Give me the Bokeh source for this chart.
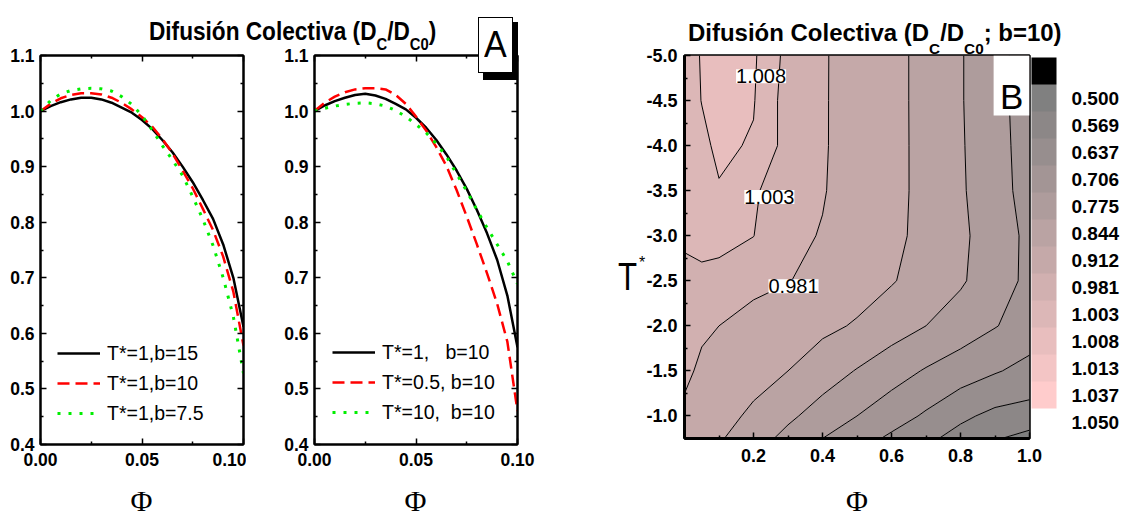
import numpy as np
from bokeh.plotting import figure
from bokeh.layouts import row, column
from bokeh.models import (Range1d, LinearAxis, FixedTicker, NumeralTickFormatter, Legend,
                          LegendItem, Label, BoxAnnotation, ColorBar, LinearColorMapper,
                          CustomJSTickFormatter, AllLabels, Div)
from bokeh.embed import file_html
from bokeh.resources import INLINE

# ---------------- data ----------------
phi_a = [0.000, 0.005, 0.010, 0.015, 0.020, 0.025, 0.030, 0.035, 0.040, 0.045, 0.050,
         0.055, 0.060, 0.065, 0.070, 0.075, 0.080, 0.085, 0.090, 0.095, 0.100]

# Panel A-left : T*=1, b = 15 / 10 / 7.5
dc_t1_b15 = [1.000, 1.009, 1.016, 1.021, 1.024, 1.024, 1.021, 1.015, 1.006, 0.997, 0.984,
             0.968, 0.948, 0.926, 0.900, 0.872, 0.840, 0.806, 0.760, 0.700, 0.612]
dc_t1_b10 = [1.000, 1.013, 1.023, 1.029, 1.032, 1.032, 1.030, 1.024, 1.015, 1.003, 0.989,
             0.972, 0.950, 0.924, 0.893, 0.861, 0.824, 0.786, 0.738, 0.675, 0.578]
dc_t1_b75 = [1.000, 1.019, 1.031, 1.037, 1.040, 1.041, 1.040, 1.036, 1.026, 1.012, 0.992,
             0.966, 0.938, 0.912, 0.884, 0.846, 0.805, 0.758, 0.700, 0.630, 0.528]
legend_left = ["T*=1,b=15", "T*=1,b=10", "T*=1,b=7.5"]

# Panel A-right : b=10, T* = 1 / 0.5 / 10
dc_b10_t1 = [1.000, 1.010, 1.018, 1.024, 1.029, 1.031, 1.028, 1.022, 1.013, 1.003, 0.988,
             0.970, 0.948, 0.922, 0.893, 0.860, 0.822, 0.780, 0.732, 0.668, 0.575]
dc_b10_t05 = [1.000, 1.015, 1.026, 1.034, 1.039, 1.041, 1.041, 1.039, 1.029, 1.013, 0.990,
              0.965, 0.935, 0.901, 0.858, 0.810, 0.760, 0.708, 0.653, 0.585, 0.460]
dc_b10_t10 = [1.000, 1.005, 1.009, 1.012, 1.014, 1.015, 1.013, 1.009, 1.001, 0.990, 0.976,
              0.961, 0.941, 0.918, 0.887, 0.856, 0.822, 0.790, 0.760, 0.730, 0.689]
legend_right = ["T*=1,\u00a0\u00a0\u00a0b=10", "T*=0.5, b=10", "T*=10,\u00a0\u00a0b=10"]

# Panel B : D_C/D_C0 on (Phi, T*) grid, b=10
phi_grid = [0.0, 0.05, 0.1, 0.2, 0.3, 0.4, 0.5, 0.6, 0.7, 0.8, 0.9, 1.0]
t_grid = [-5.0, -4.5, -4.0, -3.5, -3.0, -2.5, -2.0, -1.5, -1.0, -0.75]
dc_grid = [
    [1.0060, 1.0083, 1.0100, 1.0087, 1.0014, 0.9857, 0.9600, 0.9300, 0.8940, 0.8490, 0.7960, 0.745],
    [1.0060, 1.0081, 1.0096, 1.0083, 1.0007, 0.9855, 0.9600, 0.9300, 0.8940, 0.8490, 0.7960, 0.745],
    [1.0050, 1.0071, 1.0088, 1.0076, 1.0010, 0.9854, 0.9600, 0.9300, 0.8945, 0.8506, 0.7990, 0.747],
    [1.0050, 1.0062, 1.0077, 1.0046, 0.9959, 0.9840, 0.9590, 0.9296, 0.8950, 0.8525, 0.8015, 0.750],
    [1.0045, 1.0051, 1.0051, 1.0032, 0.9920, 0.9784, 0.9524, 0.9263, 0.8950, 0.8572, 0.8095, 0.760],
    [1.0005, 1.0015, 1.0008, 0.9944, 0.9832, 0.9626, 0.9396, 0.9166, 0.8855, 0.8523, 0.8057, 0.760],
    [0.9900, 0.9855, 0.9810, 0.9628, 0.9447, 0.9265, 0.9058, 0.8749, 0.8440, 0.8111, 0.7783, 0.745],
    [0.9870, 0.9759, 0.9631, 0.9376, 0.9120, 0.8762, 0.8404, 0.8040, 0.7693, 0.7405, 0.7118, 0.685],
    [0.9750, 0.9529, 0.9359, 0.8993, 0.8568, 0.8156, 0.7750, 0.7367, 0.6968, 0.6508, 0.6197, 0.610],
    [0.9550, 0.9371, 0.9192, 0.8731, 0.8243, 0.7750, 0.7344, 0.6935, 0.6516, 0.6124, 0.5747, 0.545],
]
levels = [0.500, 0.569, 0.637, 0.706, 0.775, 0.844, 0.912, 0.981, 1.003, 1.008, 1.013, 1.037, 1.050]
contour_label_values = ["1.008", "1.003", "0.981"]

# ---------------- styles / placement ----------------
SANS = "Liberation Sans"
band_colors = ["#808080", "#8c8787", "#978e8e", "#a39595", "#ae9c9c", "#baa3a3",
               "#c5a9a9", "#d1b0b0", "#dcb7b7", "#e8bebe", "#f3c5c5", "#ffcccc"]
contour_label_pos = [(0.222, -4.77), (0.246, -3.43), (0.316, -2.44)]


def style_axis(ax, ticks, minor, fmt, fs, standoff, show=True):
    ax.ticker = FixedTicker(ticks=ticks, minor_ticks=minor)
    ax.axis_line_color = "black"
    ax.axis_line_width = 2
    ax.major_tick_in = 6
    ax.major_tick_out = 0
    ax.minor_tick_in = 3
    ax.minor_tick_out = 0
    ax.major_tick_line_width = 1.5
    ax.minor_tick_line_width = 1.5
    ax.major_tick_line_color = "black"
    ax.minor_tick_line_color = "black"
    ax.major_label_text_font = SANS
    ax.major_label_text_font_style = "bold"
    ax.major_label_text_font_size = fs
    ax.major_label_text_color = "black"
    ax.major_label_standoff = standoff
    if show:
        ax.formatter = NumeralTickFormatter(format=fmt)
    else:
        ax.formatter = CustomJSTickFormatter(code="return ''")
        ax.major_label_standoff = 0


def panel_a(width, bl, br, series, labels, legend_loc):
    p = figure(width=width, height=516, x_range=Range1d(0, 0.1), y_range=Range1d(0.4, 1.1),
               output_backend="svg", toolbar_location=None,
               min_border_left=bl, min_border_right=br, min_border_top=55, min_border_bottom=72)
    p.grid.visible = False
    p.outline_line_color = "black"
    p.outline_line_width = 2
    xt, xm = [0.0, 0.05, 0.1], [0.025, 0.075]
    yt = [0.4, 0.5, 0.6, 0.7, 0.8, 0.9, 1.0, 1.1]
    ym = [0.45, 0.55, 0.65, 0.75, 0.85, 0.95, 1.05]
    style_axis(p.below[0], xt, xm, "0.00", "17.5px", 8)
    style_axis(p.left[0], yt, ym, "0.0", "17.5px", 6)
    top = LinearAxis()
    right = LinearAxis()
    style_axis(top, xt, xm, "0.00", "17.5px", 0, show=False)
    style_axis(right, yt, ym, "0.0", "17.5px", 0, show=False)
    p.add_layout(top, "above")
    p.add_layout(right, "right")
    styles = [dict(line_color="black", line_width=2.5),
              dict(line_color="#ff0000", line_width=2.5, line_dash="12 6"),
              dict(line_color="#00ee00", line_width=3, line_dash="3 8")]
    items = []
    for ys, lab, st in zip(series, labels, styles):
        r = p.line(phi_a, ys, **st)
        items.append(LegendItem(label=lab, renderers=[r]))
    leg = Legend(items=items, location=legend_loc, padding=0, margin=0, spacing=6,
                 glyph_width=43, glyph_height=24, label_height=24, label_standoff=7,
                 label_text_font=SANS, label_text_font_size="19.5px", label_text_color="black",
                 background_fill_alpha=0, border_line_alpha=0)
    p.add_layout(leg)
    return p


# Left A panel: frame x 40..243, y 55..444
p1 = panel_a(246, 40, 3, [dc_t1_b15, dc_t1_b10, dc_t1_b75], legend_left, (17, 19))
# Right A panel: frame x 314..517
p2 = panel_a(314, 68, 43, [dc_b10_t1, dc_b10_t05, dc_b10_t10], legend_right, (18, 20))

# B panel: frame x 684..1030, y 55..438
p3 = figure(width=564, height=516, x_range=Range1d(0, 1.0), y_range=Range1d(-0.75, -5.0),
            output_backend="svg", toolbar_location=None,
            min_border_left=124, min_border_right=94, min_border_top=55, min_border_bottom=78)
p3.grid.visible = False
p3.outline_line_color = "black"
p3.outline_line_width = 2.5
p3.contour(x=phi_grid, y=t_grid, z=np.array(dc_grid), levels=levels,
           fill_color=band_colors, line_color="black", line_width=1)
style_axis(p3.below[0], [0.2, 0.4, 0.6, 0.8, 1.0], [0.1, 0.3, 0.5, 0.7, 0.9], "0.0", "18px", 10)
style_axis(p3.left[0], [-5.0, -4.5, -4.0, -3.5, -3.0, -2.5, -2.0, -1.5, -1.0],
           [-4.75, -4.25, -3.75, -3.25, -2.75, -2.25, -1.75, -1.25, -0.75], "0.0", "18px", 7)
p3.below[0].axis_line_width = 3
p3.left[0].axis_line_width = 3

for t, (lx, ly) in zip(contour_label_values, contour_label_pos):
    p3.add_layout(Label(x=lx, y=ly, text=t, text_align="center", text_baseline="middle",
                        text_font=SANS, text_font_size="20px", text_color="black",
                        background_fill_color="white", background_fill_alpha=1))

p3.add_layout(BoxAnnotation(left=0.896, right=1.0, top=-5.0, bottom=-4.335,
                            fill_color="white", fill_alpha=1, line_color=None))
p3.add_layout(Label(x=0.948, y=-4.54, text="B", text_align="center", text_baseline="middle",
                    text_font=SANS, text_font_size="35px", text_color="black"))

# colour bar (black = below 0.500 at top, pink = 1.050 at bottom)
cb_palette = ["#ffffff"] + band_colors[::-1] + ["#000000"]
mapper = LinearColorMapper(palette=cb_palette, low=-1, high=len(levels))
cb_ticks = [len(levels) - 1.5 - j for j in range(len(levels))]
cb = ColorBar(color_mapper=mapper, ticker=FixedTicker(ticks=cb_ticks),
              major_label_overrides={t: f"{lev:.3f}" for t, lev in zip(cb_ticks, levels)},
              major_label_policy=AllLabels(),
              width=25, height=27 * (len(levels) + 1), padding=2, margin=0,
              location="top_left", label_standoff=15,
              major_tick_line_color=None, minor_tick_line_color=None, bar_line_color=None,
              border_line_color=None, background_fill_alpha=0,
              major_label_text_font=SANS, major_label_text_font_style="bold",
              major_label_text_font_size="19px", major_label_text_color="black")
p3.add_layout(cb, "right")

# ---------------- overlay texts (titles, panel tag, axis titles) ----------------
SUB = "font-size:{s}px;vertical-align:-{d}px"


def block(left, top, size, inner, family="'Liberation Sans', Arial, sans-serif",
          weight="normal", sx=1.0, lh=1.0, extra=""):
    return (f'<div style="position:absolute;left:{left}px;top:{top:.1f}px;white-space:nowrap;'
            f'font-family:{family};font-weight:{weight};font-size:{size}px;line-height:{lh};'
            f'transform:scaleX({sx});transform-origin:0 0;{extra}">{inner}</div>')


title_a = ('Difusión Colectiva (D<span style="' + SUB.format(s=17, d=10) + '">C</span>/D'
           '<span style="' + SUB.format(s=17, d=10) + '">C0</span>)')
title_b = ('Difusión Colectiva (D<span style="' + SUB.format(s=15, d=13) + '">C</span>/D'
           '<span style="' + SUB.format(s=15, d=13) + '">C0</span>; b=10)')

serif = "'Liberation Serif', 'Times New Roman', serif"
phi_css = "width:100px;text-align:center;"
phi_top = 511 - 0.7625 * 30
parts = [
    block(149, 40 - 0.8465 * 26, 26, title_a, weight="bold", sx=0.87),
    block(688, 42 - 0.8465 * 23.5, 23.5, title_b, weight="bold", sx=1.02),
    '<div style="position:absolute;left:483px;top:22px;width:35px;height:58px;background:#000;"></div>',
    '<div style="position:absolute;left:478px;top:17px;width:35px;height:56px;background:#fff;'
    'border:1.5px solid #000;box-sizing:border-box;"></div>',
    block(484, 57 - 0.8465 * 37, 37, "A", sx=0.92),
    block(618, 290 - 0.8465 * 39, 39, "T", sx=0.8),
    block(639, 268 - 0.8465 * 16, 16, "*"),
    block(91.5, phi_top, 30, "Φ", family=serif, lh=0.85, extra=phi_css),
    block(365.5, phi_top, 30, "Φ", family=serif, lh=0.85, extra=phi_css),
    block(807, phi_top, 30, "Φ", family=serif, lh=0.85, extra=phi_css),
]
overlay_html = ('<div style="position:relative;width:1124px;height:516px;color:#000;">'
                + "".join(parts) + "</div>")
overlay = Div(text=overlay_html, width=1124, height=516, margin=(-516, 0, 0, 0),
              styles={"position": "relative", "z-index": "10", "pointer-events": "none"})

layout = column(row(row(p1, p2), row(p3)), overlay)
open("out.html", "w").write(file_html(layout, INLINE))
